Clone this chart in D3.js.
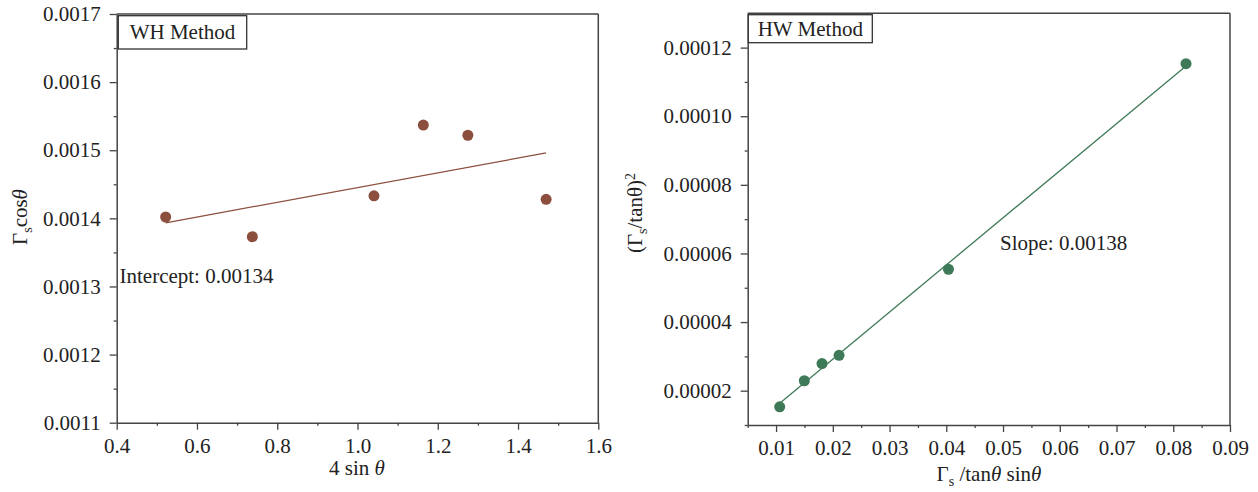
<!DOCTYPE html>
<html><head><meta charset="utf-8">
<script src="https://cdn.jsdelivr.net/npm/d3@7"></script>
<style>
body{margin:0;background:#fff;}
svg text{font-family:"Liberation Serif","Times New Roman",serif;fill:#222;}
</style></head>
<body><svg id="c" width="1258" height="492"></svg>
<script>
// ---- WH panel data ----
const whX = [0.522, 0.738, 1.041, 1.164, 1.275, 1.470];
const whY = [0.001402, 0.001373, 0.001433, 0.001537, 0.001522, 0.001428];
const whFitX = [0.522, 1.470];
const whFitY = [0.0013935, 0.001496];
const whXTicks = [0.4, 0.6, 0.8, 1.0, 1.2, 1.4, 1.6];
const whYTicks = [0.0011, 0.0012, 0.0013, 0.0014, 0.0015, 0.0016, 0.0017];
// ---- HW panel data ----
const hwX = [0.01064, 0.01498, 0.0181, 0.0211, 0.04038, 0.08225];
const hwY = [0.0000153, 0.0000229, 0.0000279, 0.0000303, 0.0000554, 0.0001153];
const hwFitX = [0.0106, 0.0822];
const hwFitY = [0.0000163, 0.0001146];
const hwXTicks = [0.01, 0.02, 0.03, 0.04, 0.05, 0.06, 0.07, 0.08, 0.09];
const hwYTicks = [0.00002, 0.00004, 0.00006, 0.00008, 0.00010, 0.00012];

const svg = d3.select("#c");
const axisColor = "#444";
const FS = 21;

function panel(o){
  const g = svg.append("g");
  const x = d3.scaleLinear().domain(o.xDom).range([o.left, o.right]);
  const y = d3.scaleLinear().domain(o.yDom).range([o.bottom, o.top]);
  g.append("line").attr("x1",o.left).attr("x2",o.right).attr("y1",o.top).attr("y2",o.top)
    .attr("stroke",axisColor).attr("stroke-width",1.5);
  g.append("line").attr("x1",o.right).attr("x2",o.right).attr("y1",o.top).attr("y2",o.bottom)
    .attr("stroke",axisColor).attr("stroke-width",1.5);
  const xAxisMinor = d3.axisBottom(x).tickValues(o.xMinor).tickSize(3).tickFormat("");
  const yAxisMinor = d3.axisLeft(y).tickValues(o.yMinor).tickSize(3).tickFormat("");
  g.append("g").attr("transform",`translate(0,${o.bottom})`).call(xAxisMinor)
    .call(s=>{s.select(".domain").remove(); s.selectAll("line").attr("stroke",axisColor).attr("stroke-width",1.3);});
  g.append("g").attr("transform",`translate(${o.left},0)`).call(yAxisMinor)
    .call(s=>{s.select(".domain").remove(); s.selectAll("line").attr("stroke",axisColor).attr("stroke-width",1.3);});
  const xa = d3.axisBottom(x).tickValues(o.xTicks).tickSize(7).tickSizeOuter(0).tickPadding(8).tickFormat(o.xFmt);
  const ya = d3.axisLeft(y).tickValues(o.yTicks).tickSize(7).tickSizeOuter(0).tickPadding(9).tickFormat(o.yFmt);
  g.append("g").attr("transform",`translate(0,${o.bottom})`).call(xa)
    .call(s=>{s.select(".domain").attr("stroke",axisColor).attr("stroke-width",1.5);
      s.selectAll("line").attr("stroke",axisColor).attr("stroke-width",1.3);
      s.selectAll("text").attr("font-size",FS).attr("font-family","Liberation Serif").attr("fill","#222");});
  g.append("g").attr("transform",`translate(${o.left},0)`).call(ya)
    .call(s=>{s.select(".domain").attr("stroke",axisColor).attr("stroke-width",1.5);
      s.selectAll("line").attr("stroke",axisColor).attr("stroke-width",1.3);
      s.selectAll("text").attr("font-size",FS).attr("font-family","Liberation Serif").attr("fill","#222");});
  g.append("line").attr("x1",x(o.fitX[0])).attr("y1",y(o.fitY[0]))
    .attr("x2",x(o.fitX[1])).attr("y2",y(o.fitY[1]))
    .attr("stroke",o.color).attr("stroke-width",1.3);
  g.selectAll("circle.pt").data(o.xs.map((v,i)=>[v,o.ys[i]])).join("circle")
    .attr("class","pt").attr("cx",d=>x(d[0])).attr("cy",d=>y(d[1])).attr("r",5.5).attr("fill",o.color);
  g.append("rect").attr("x",o.box[0]).attr("y",o.box[1]).attr("width",o.box[2]).attr("height",o.box[3])
    .attr("fill","#fff").attr("stroke","#333").attr("stroke-width",1.3);
  g.append("text").attr("x",o.box[0]+o.box[2]/2).attr("y",o.box[1]+o.box[3]/2+7)
    .attr("text-anchor","middle").attr("font-size",FS).text(o.title);
  return {g,x,y};
}

const wh = panel({
  left:116.7,right:598.3,top:14,bottom:422.7,
  xDom:[0.4,1.6], yDom:[0.0011,0.0017],
  xTicks:whXTicks, yTicks:whYTicks,
  xMinor:d3.range(0.5,1.6,0.2), yMinor:[0.00115,0.00125,0.00135,0.00145,0.00155,0.00165],
  xFmt:d3.format(".1f"), yFmt:d3.format(".4f"),
  xs:whX, ys:whY, fitX:whFitX, fitY:whFitY, color:"#8C4F3E",
  box:[118.3,15.7,128.4,33.3], title:"WH Method"
});
wh.g.append("text").attr("x",119.5).attr("y",283).attr("font-size",FS).text("Intercept: 0.00134");
const whxl = wh.g.append("text").attr("x",357).attr("y",475).attr("text-anchor","middle").attr("font-size",FS);
whxl.append("tspan").text("4 sin ");
whxl.append("tspan").attr("font-style","italic").text("θ");
const whyl = wh.g.append("text").attr("transform","translate(27,217) rotate(-90)").attr("text-anchor","middle").attr("font-size",FS);
whyl.append("tspan").text("Γ");
whyl.append("tspan").attr("font-size",14).attr("dy",5).text("s");
whyl.append("tspan").attr("dy",-5).text("cos");
whyl.append("tspan").attr("font-style","italic").text("θ");

const hw = panel({
  left:747.7,right:1230,top:13.3,bottom:425,
  xDom:[0.005,0.09], yDom:[0.00001,0.00013],
  xTicks:hwXTicks, yTicks:hwYTicks,
  xMinor:[0.005,0.015,0.025,0.035,0.045,0.055,0.065,0.075,0.085], yMinor:[0.00001,0.00003,0.00005,0.00007,0.00009,0.00011],
  xFmt:d3.format(".2f"), yFmt:d3.format(".5f"),
  xs:hwX, ys:hwY, fitX:hwFitX, fitY:hwFitY, color:"#3F7A58",
  box:[748.3,14.7,124,28], title:"HW Method"
});
hw.g.append("text").attr("x",1000).attr("y",250).attr("font-size",FS).text("Slope: 0.00138");
const hwxl = hw.g.append("text").attr("x",989).attr("y",481).attr("text-anchor","middle").attr("font-size",FS);
hwxl.append("tspan").text("Γ");
hwxl.append("tspan").attr("font-size",14).attr("dy",5).text("s");
hwxl.append("tspan").attr("dy",-5).text(" /tan");
hwxl.append("tspan").attr("font-style","italic").text("θ");
hwxl.append("tspan").text(" sin");
hwxl.append("tspan").attr("font-style","italic").text("θ");
const hwyl = hw.g.append("text").attr("transform","translate(642,213) rotate(-90)").attr("text-anchor","middle").attr("font-size",FS);
hwyl.append("tspan").text("(Γ");
hwyl.append("tspan").attr("font-size",14).attr("dy",5).text("s");
hwyl.append("tspan").attr("dy",-5).text("/tanθ)");
hwyl.append("tspan").attr("font-size",14).attr("dy",-7).text("2");
</script></body></html>
